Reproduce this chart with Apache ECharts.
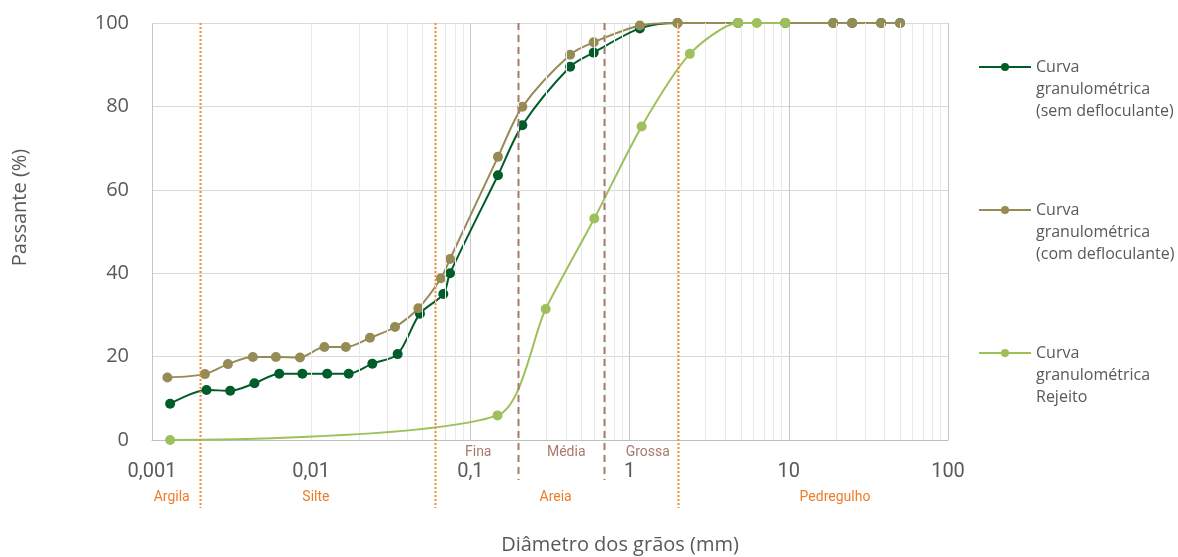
<!DOCTYPE html>
<html>
<head>
<meta charset="utf-8">
<script src="https://cdn.jsdelivr.net/npm/echarts@6/dist/echarts.min.js"></script>
<style>
  html, body { margin: 0; padding: 0; background: #fff; }
  #chart { width: 1178px; height: 557px; }
</style>
</head>
<body>
<div id="chart"></div>
<script>
// curva sem defloculante
const semDiam = [0.0013, 0.0022, 0.0031, 0.0044, 0.0063, 0.0088, 0.0126, 0.0172, 0.0242, 0.0349, 0.0482, 0.0676, 0.0745, 0.149, 0.212, 0.423, 0.595, 1.16, 2.0, 4.8, 9.5, 19, 25, 38, 50]
const semPass = [8.7, 12.0, 11.8, 13.6, 15.9, 15.9, 15.9, 15.9, 18.3, 20.6, 30.3, 35.0, 40.0, 63.5, 75.5, 89.5, 92.9, 98.7, 100, 100, 100, 100, 100, 100, 100]
// curva com defloculante
const comDiam = [0.00125, 0.00215, 0.0030, 0.0043, 0.0060, 0.0085, 0.0121, 0.0165, 0.0234, 0.0336, 0.0471, 0.0653, 0.0745, 0.149, 0.212, 0.423, 0.595, 1.16, 2.0, 4.8, 9.5, 19, 25, 38, 50]
const comPass = [15.0, 15.8, 18.2, 19.9, 19.9, 19.8, 22.3, 22.3, 24.5, 27.1, 31.6, 38.8, 43.4, 67.9, 79.9, 92.4, 95.4, 99.4, 100, 100, 100, 100, 100, 100, 100]
// rejeito
const rejDiam = [0.0013, 0.148, 0.297, 0.6, 1.19, 2.39, 4.8, 6.3, 9.5]
const rejPass = [0, 5.9, 31.4, 53.1, 75.2, 92.6, 100, 100, 100]

const seriesNames = [
  "Curva\ngranulométrica\n(sem defloculante)",
  "Curva\ngranulométrica\n(com defloculante)",
  "Curva\ngranulométrica\nRejeito",
]
const colors = ["#005C29", "#968B55", "#9DC05A"]

// limites das frações (mm)
const orangeLimits = [0.002, 0.06, 2.0]
const brownLimits = [0.2, 0.69]
const zoneLabels = ["Argila", "Silte", "Areia", "Pedregulho"]
const zoneAt = [0.00133, 0.0107, 0.343, 19.5]
const sandLabels = ["Fina", "Média", "Grossa"]
const sandAt = [0.112, 0.40, 1.3]

const zip = (xs, ys) => xs.map((x, i) => [x, ys[i]])

// linhas secundarias da escala log
const minorLines = []
for (let d = -3; d <= 1; d++) {
  for (let k = 2; k <= 9; k++) minorLines.push({ xAxis: k * Math.pow(10, d) })
}

const fmtX = (v) => {
  const d = Math.round(Math.log10(v))
  return d < 0 ? v.toFixed(-d).replace(".", ",") : String(Math.round(v))
}

const lineSeries = (i, data, smooth) => ({
  name: seriesNames[i],
  type: "line",
  smooth: smooth,
  symbol: "circle",
  symbolSize: 10,
  z: 3 + i,
  itemStyle: { color: colors[i] },
  lineStyle: { color: colors[i], width: 2 },
  data: data,
})

const chartDom = echarts.init(document.getElementById("chart"))
chartDom.setOption({
  animation: false,
  backgroundColor: "#fff",
  grid: { left: 152, right: 230, top: 23, bottom: 117, containLabel: false, outerBoundsMode: "none" },
  legend: {
    orient: "vertical",
    left: 973,
    top: 7,
    itemWidth: 52,
    itemHeight: 10,
    itemGap: 33,
    data: seriesNames,
    // linhas vazias em cima para o icone ficar na primeira linha
    formatter: (name) => "\n\n" + name,
    textStyle: {
      fontFamily: "Open Sans",
      fontSize: 16,
      color: "#595959",
      lineHeight: 22,
    },
  },
  xAxis: {
    type: "log",
    logBase: 10,
    min: 0.001,
    max: 100,
    name: "Diâmetro dos grãos (mm)",
    nameLocation: "middle",
    nameGap: 95,
    nameTextStyle: { fontFamily: "Open Sans", fontSize: 20, color: "#595959", padding: [0, 0, 0, 140] },
    axisLine: { lineStyle: { color: "#BFBFBF", width: 1 } },
    axisTick: { show: false },
    axisLabel: { formatter: fmtX, fontFamily: "Roboto", fontSize: 20, color: "#595959", margin: 22 },
    splitLine: { show: true, lineStyle: { color: "#C6C6C6", width: 1 } },
  },
  yAxis: {
    type: "value",
    min: 0,
    max: 100,
    interval: 20,
    name: "Passante (%)",
    nameLocation: "middle",
    nameGap: 122,
    nameTextStyle: { fontFamily: "Open Sans", fontSize: 20, color: "#595959", padding: [0, 0, 0, 48] },
    axisLine: { show: false },
    axisTick: { show: false },
    axisLabel: { fontFamily: "Open Sans", fontSize: 20, color: "#595959", margin: 23 },
    splitLine: { lineStyle: { color: "#D9D9D9", width: 1 } },
  },
  series: [
    {
      type: "line",
      z: 1,
      silent: true,
      data: [],
      markLine: {
        silent: true,
        symbol: "none",
        label: { show: false },
        lineStyle: { color: "#E9E9E9", type: "solid", width: 1 },
        data: minorLines,
      },
    },
    lineSeries(0, zip(semDiam, semPass), 0.3),
    lineSeries(1, zip(comDiam, comPass), 0.3),
    lineSeries(2, zip(rejDiam, rejPass), 0.25),
  ],
})

// linhas de limite e rotulos das fracoes
function drawLimits() {
  const px = (v) => chartDom.convertToPixel({ xAxisIndex: 0 }, v)
  const top = chartDom.convertToPixel({ yAxisIndex: 0 }, 100)
  const g = []
  orangeLimits.forEach((v) => {
    const x = Math.round(px(v)) + 0.5
    g.push({
      type: "line", z: 10, silent: true,
      shape: { x1: x, y1: top, x2: x, y2: 508 },
      style: { stroke: "#F28C33", lineWidth: 2, lineDash: [2, 2] },
    })
  })
  brownLimits.forEach((v) => {
    const x = Math.round(px(v)) + 0.5
    g.push({
      type: "line", z: 10, silent: true,
      shape: { x1: x, y1: top, x2: x, y2: 480 },
      style: { stroke: "#A97A6C", lineWidth: 2, lineDash: [7, 5] },
    })
  })
  zoneLabels.forEach((t, i) => {
    g.push({
      type: "text", z: 10, silent: true,
      x: px(zoneAt[i]), y: 497,
      style: { text: t, fill: "#EE7D2B", font: "14px Roboto", align: "center", verticalAlign: "middle" },
    })
  })
  sandLabels.forEach((t, i) => {
    g.push({
      type: "text", z: 10, silent: true,
      x: px(sandAt[i]), y: 452,
      style: { text: t, fill: "#A97A6C", font: "14px Roboto", align: "center", verticalAlign: "middle" },
    })
  })
  chartDom.setOption({ graphic: g })
}
drawLimits()
</script>
</body>
</html>
